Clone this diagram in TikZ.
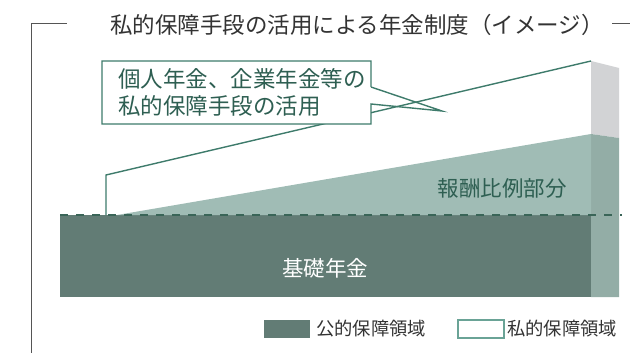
\documentclass[tikz,border=0pt]{standalone}
\usepackage{fontspec}
\setmainfont{Noto Sans CJK JP}
\definecolor{basecol}{HTML}{627C75}
\definecolor{wedgecol}{HTML}{A0BCB5}
\definecolor{sidecol}{HTML}{93ADA6}
\definecolor{graycol}{HTML}{D2D3D5}
\definecolor{linecol}{HTML}{3E7B6B}
\definecolor{textgreen}{HTML}{2E5F52}
\definecolor{dashcol}{HTML}{3A6558}
\definecolor{framecol}{HTML}{555555}
\definecolor{txtcol}{HTML}{333333}
\definecolor{swborder}{HTML}{6AA396}
\tikzset{
  framestyle/.style={draw=framecol, line width=1pt},
  titletext/.style={inner sep=0pt, text=txtcol, font=\fontsize{22.5}{26}\selectfont},
  calltext/.style={inner sep=0pt, text=textgreen, align=left, font=\fontsize{22.5}{27}\selectfont},
  hoshutext/.style={inner sep=0pt, text=textgreen, font=\fontsize{21.5}{25}\selectfont},
  kisotext/.style={inner sep=0pt, text=white, font=\fontsize{21.5}{25}\selectfont},
  legtext/.style={inner sep=0pt, anchor=west, text=txtcol, font=\fontsize{18.3}{22}\selectfont},
  swatch/.style={minimum width=46pt, minimum height=18pt, inner sep=0pt},
  outline/.style={draw=linecol, line width=1.4pt, line join=miter}
}
\begin{document}
\begin{tikzpicture}[x=1pt,y=-1pt]
\useasboundingbox (0,0) rectangle (630,353);
% frame
\coordinate (fb) at (31,353);
\coordinate (ft) at (31,24);
\coordinate (fr) at (67,24);
\coordinate (sl) at (612,24);
\coordinate (sr) at (630,24);
\draw[framestyle] (fb) -- (ft) -- (fr);
\draw[framestyle] (sl) -- (sr);
\node[titletext] (title) at (357,25) {私的保障手段の活用による年金制度（イメージ）};
% block geometry
\coordinate (gtf) at (591,61);
\coordinate (gts) at (619,68);
\coordinate (gbs) at (619,138);
\coordinate (gbf) at (591,134);
\coordinate (sbs) at (619,297);
\coordinate (sbf) at (591,297);
\coordinate (bl) at (60,215);
\coordinate (dr) at (591,215);
\coordinate (ws) at (117,215);
\coordinate (dend) at (622,215);
\coordinate (pv0) at (106,215);
\coordinate (pv1) at (106,175);
% side faces
\fill[graycol] (gtf) -- (gts) -- (gbs) -- (gbf) -- cycle;
\fill[sidecol] (gbf) -- (gbs) -- (sbs) -- (sbf) -- cycle;
% base
\fill[basecol] (bl) rectangle (sbf);
% wedge
\fill[wedgecol] (ws) -- (gbf) -- (dr) -- cycle;
% dashed line
\draw[dashcol, line width=2pt, dash pattern=on 8pt off 8pt] (bl) -- (dend);
% private outline
\draw[outline] (pv0) -- (pv1) -- (gtf);
% callout
\coordinate (c1) at (102,61);
\coordinate (c2) at (371,61);
\coordinate (c3) at (371,124);
\coordinate (c4) at (102,124);
\coordinate (t1) at (371,87);
\coordinate (t2) at (371,104);
\coordinate (tip) at (442,111);
\fill[white] (c1) rectangle (c3);
\draw[outline] (t1) -- (c2) -- (c1) -- (c4) -- (c3) -- (t2) -- (tip) -- (t1);
\node[calltext, anchor=west] (ct) at (118,92.5) {個人年金、企業年金等の\\私的保障手段の活用};
% labels
\node[hoshutext] (hp) at (502,188) {報酬比例部分};
\node[kisotext] (kiso) at (325,268) {基礎年金};
% legend
\node[swatch, fill=basecol] (sw1) at (287,329) {};
\node[legtext] (l1) at (316,329) {公的保障領域};
\node[swatch, draw=swborder, line width=1.2pt, fill=white] (sw2) at (481,329) {};
\node[legtext] (l2) at (507,329) {私的保障領域};
\end{tikzpicture}
\end{document}
